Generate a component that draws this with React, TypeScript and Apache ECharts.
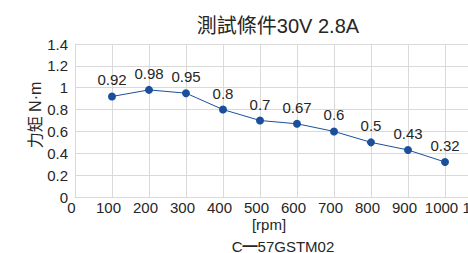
import React, { useEffect, useRef } from "react";
import * as echarts from "echarts";

const title = "測試條件30V 2.8A";
const yName = "力矩 N·m";
const xName = "[rpm]";
const modelName = "C━57GSTM02";
const rpm = [100, 200, 300, 400, 500, 600, 700, 800, 900, 1000];
const torque = [0.92, 0.98, 0.95, 0.8, 0.7, 0.67, 0.6, 0.5, 0.43, 0.32];

const FONT = "'Liberation Sans', Arial, 'Noto Sans CJK TC', sans-serif";
const TXT = "#262626";
const GRID = "#d9d9d9";
const LINE = "#1b4f9c";

export default function App() {
  const ref = useRef<HTMLDivElement>(null);
  useEffect(() => {
    if (!ref.current) return;
    const chart = echarts.init(ref.current, undefined, { renderer: "svg" });
    chart.setOption({
      animation: false,
      textStyle: { fontFamily: FONT },
      title: {
        text: title,
        left: 273,
        top: 11,
        textAlign: "center",
        textStyle: { fontFamily: FONT, fontSize: 20, fontWeight: "normal", color: TXT },
      },
      grid: { left: 75, top: 44, bottom: 56, right: 38, containLabel: false },
      xAxis: {
        type: "value",
        min: 0,
        max: 1100,
        interval: 100,
        axisLine: { show: true, lineStyle: { color: GRID } },
        axisTick: { show: false },
        splitLine: { show: true, lineStyle: { color: GRID } },
        axisLabel: {
          color: TXT,
          fontSize: 15,
          fontFamily: FONT,
          margin: 3,
          padding: [0, 7, 0, 0],
          formatter: (v: number) => String(v),
        },
      },
      yAxis: {
        type: "value",
        min: 0,
        max: 1.4,
        interval: 0.2,
        axisLine: { show: true, lineStyle: { color: GRID } },
        axisTick: { show: false },
        splitLine: { show: true, lineStyle: { color: GRID } },
        axisLabel: { color: TXT, fontSize: 15, fontFamily: FONT, margin: 7 },
      },
      graphic: [
        {
          type: "text",
          x: 35,
          y: 115,
          rotation: Math.PI / 2,
          style: { text: yName, fill: TXT, font: `16px ${FONT}`, align: "center", verticalAlign: "middle" },
        },
        {
          type: "text",
          x: 269,
          y: 224,
          style: { text: xName, fill: TXT, font: `15px ${FONT}`, align: "center", verticalAlign: "middle" },
        },
        {
          type: "text",
          x: 283,
          y: 246,
          style: { text: modelName, fill: TXT, font: `15px ${FONT}`, align: "center", verticalAlign: "middle" },
        },
      ],
      series: [
        {
          type: "line",
          data: rpm.map((x, i) => [x, torque[i]]),
          symbol: "circle",
          symbolSize: 8,
          lineStyle: { color: LINE, width: 1 },
          itemStyle: { color: LINE },
          label: {
            show: true,
            position: "top",
            distance: 5,
            color: TXT,
            fontSize: 15,
            fontFamily: FONT,
          },
        },
      ],
    });
    return () => chart.dispose();
  }, []);
  return (
    <div style={{ position: "absolute", left: 0, top: 0, width: 468, height: 253, overflow: "hidden" }}>
      <div ref={ref} style={{ width: 520, height: 253 }} />
    </div>
  );
}
